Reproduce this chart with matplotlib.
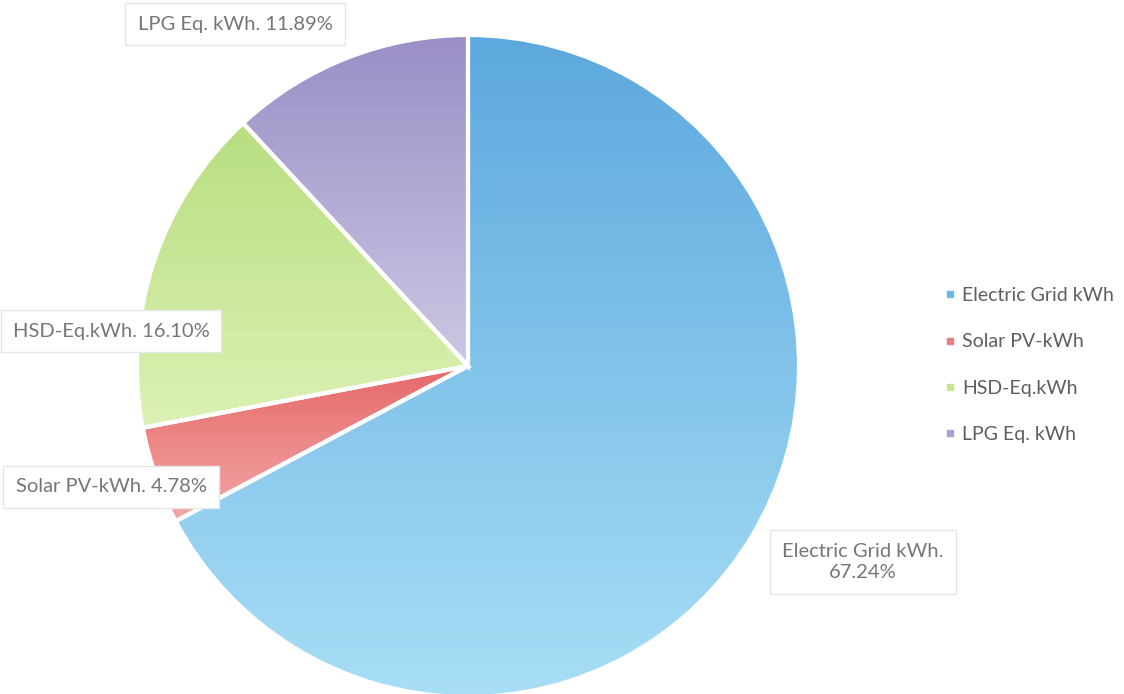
import matplotlib
matplotlib.use("Agg")
import matplotlib.pyplot as plt
import numpy as np
from matplotlib.colors import LinearSegmentedColormap
from matplotlib.patches import PathPatch
from matplotlib.lines import Line2D

plt.rcParams['font.family'] = ['Lato', 'DejaVu Sans']

labels = ["Electric Grid kWh", "Solar PV-kWh", "HSD-Eq.kWh", "LPG Eq. kWh"]
shares = [67.24, 4.78, 16.10, 11.89]
slice_labels = ["Electric Grid kWh.\n67.24%", "Solar PV-kWh. 4.78%",
                "HSD-Eq.kWh. 16.10%", "LPG Eq. kWh. 11.89%"]
dark = ["#5ca8de", "#e66868", "#b8de80", "#9a8ec6"]
light = ["#a8def6", "#f2a8a8", "#dcf1b4", "#cdc8e4"]
legend_colors = ["#6fb8e6", "#e88080", "#c6e68e", "#aaa0d2"]

W, H = 1124, 694
fig = plt.figure(figsize=(W / 100, H / 100), dpi=100)
ax = fig.add_axes([0, 0, 1, 1])

cx, cy, r = 468, H - 366, 331
wedges, _ = ax.pie(shares, center=(cx, cy), radius=r, startangle=90,
                   counterclock=False, colors=dark,
                   wedgeprops=dict(linewidth=0))

for w, c0, c1 in zip(wedges, dark, light):
    ext = w.get_path().get_extents()
    cmap = LinearSegmentedColormap.from_list("g", [c1, c0])
    grad = np.linspace(0, 1, 256).reshape(-1, 1)
    im = ax.imshow(grad, cmap=cmap, origin="lower", aspect="auto",
                   extent=[ext.x0, ext.x1, ext.y0, ext.y1], zorder=2)
    im.set_clip_path(w)
    ax.add_patch(PathPatch(w.get_path(), facecolor="none", edgecolor="white",
                           linewidth=3, zorder=3))

box = dict(boxstyle="square,pad=0.6", facecolor="white", edgecolor="#e6e6e6", linewidth=1)
label_pos = [(863, 562), (111, 487), (111, 331), (235, 24)]
for txt, (x, y) in zip(slice_labels, label_pos):
    ax.text(x, H - y, txt, ha="center", va="center", fontsize=14.5,
            color="#767676", bbox=box, zorder=5, linespacing=1.35)

handles = [Line2D([], [], marker="s", linestyle="none", markersize=5,
                  markerfacecolor=c, markeredgecolor=c) for c in legend_colors]
ax.legend(handles, labels, loc="center left", bbox_to_anchor=(928 / W, 1 - 365 / H),
          frameon=False, fontsize=14, labelcolor="#5e5e5e", handlelength=0.5,
          handletextpad=0.35, labelspacing=1.5)

ax.set_xlim(0, W)
ax.set_ylim(0, H)
ax.set_aspect("auto")
ax.axis("off")
fig.savefig("out.png", dpi=100, facecolor="white")
